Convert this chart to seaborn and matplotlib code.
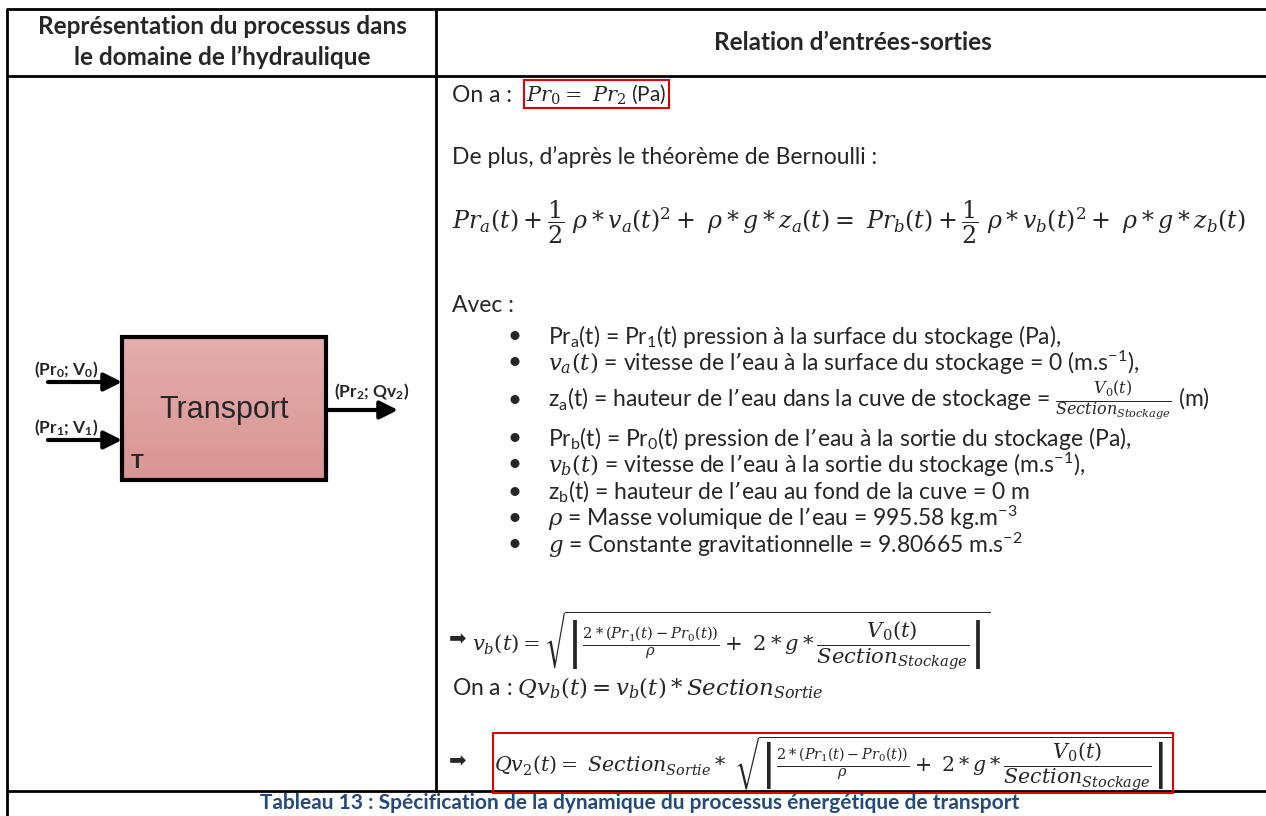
"""Tableau 13 : dynamique du processus energetique de transport."""

import matplotlib

matplotlib.use("Agg")

import matplotlib.pyplot as plt
import numpy as np
import seaborn as sns
from matplotlib.patches import Rectangle

# --- content -----------------------------------------------------------------
header_left = ["Représentation du processus dans", "le domaine de l’hydraulique"]
header_right = "Relation d’entrées-sorties"
block_name = "Transport"
block_tag = "T"
inputs = [r"(Pr$_\mathregular{0}$; V$_\mathregular{0}$)", r"(Pr$_\mathregular{1}$; V$_\mathregular{1}$)"]
output = r"(Pr$_\mathregular{2}$; Qv$_\mathregular{2}$)"

on_a = "On a :"
boxed_eq = r"$Pr_0 =\ Pr_2$ (Pa)"
de_plus = "De plus, d’après le théorème de Bernoulli :"
bernoulli = (r"$Pr_a(t) + \dfrac{1}{2}\ \rho * v_a(t)^2 +\ \rho * g * z_a(t) ="
             r"\ Pr_b(t) + \dfrac{1}{2}\ \rho * v_b(t)^2 +\ \rho * g * z_b(t)$")
avec = "Avec :"
bullets = [
    r"Pr$_\mathregular{a}$(t) = Pr$_\mathregular{1}$(t) pression à la surface du stockage (Pa),",
    r"$v_a(t)$ = vitesse de l’eau à la surface du stockage = 0 (m.s$^\mathregular{-1}$),",
    r"z$_\mathregular{a}$(t) = hauteur de l’eau dans la cuve de stockage = "
    r"$\frac{V_0(t)}{Section_{Stockage}}$ (m)",
    r"Pr$_\mathregular{b}$(t) = Pr$_\mathregular{0}$(t) pression de l’eau à la sortie du stockage (Pa),",
    r"$v_b(t)$ = vitesse de l’eau à la sortie du stockage (m.s$^\mathregular{-1}$),",
    r"z$_\mathregular{b}$(t) = hauteur de l’eau au fond de la cuve = 0 m",
    r"$\rho$ = Masse volumique de l’eau = 995.58 kg.m$^\mathregular{-3}$",
    r"$g$ = Constante gravitationnelle = 9.80665 m.s$^\mathregular{-2}$",
]
vb_eq = (r"$v_b(t) = \sqrt{\left|\frac{2*(Pr_1(t) - Pr_0(t))}{\rho} +\ 2*g*"
         r"\dfrac{V_0(t)}{Section_{Stockage}}\right|}$")
qvb_eq = r"On a : $Qv_b(t) = v_b(t) * Section_{Sortie}$"
qv2_eq = (r"$Qv_2(t) =\ Section_{Sortie} *\ \sqrt{\left|\frac{2*(Pr_1(t) - Pr_0(t))}{\rho}"
          r" +\ 2*g*\dfrac{V_0(t)}{Section_{Stockage}}\right|}$")
caption = "Tableau 13 : Spécification de la dynamique du processus énergétique de transport"
arrow_sign = "➡"

# --- layout (pixels, y pointing down) ------------------------------------------
W, H = 1266, 816
col_x = [7, 436]
row_y = [9, 76, 791]
bullet_y = [336, 363, 401, 438, 465, 492, 518, 545]

sns.set_theme(style="white")
plt.rcParams["font.family"] = ["Lato", "DejaVu Sans"]
plt.rcParams["mathtext.fontset"] = "dejavuserif"

fig = plt.figure(figsize=(W / 100, H / 100), dpi=100)
ax = fig.add_axes([0, 0, 1, 1])
ax.set_xlim(0, W)
ax.set_ylim(H, 0)
ax.axis("off")

# table rules
lw = 2.0
for y in row_y:
    ax.plot([col_x[0], W], [y, y], color="black", lw=lw, solid_capstyle="butt")
ax.plot([col_x[0], col_x[0]], [row_y[0], H], color="black", lw=lw)
ax.plot([col_x[1], col_x[1]], [row_y[0], row_y[2]], color="black", lw=lw)

# headers
for txt, y in zip(header_left, [27, 57]):
    ax.text(222, y, txt, ha="center", va="center", fontsize=17.5, fontweight="bold")
ax.text(853, 42, header_right, ha="center", va="center", fontsize=17.5, fontweight="bold")

# process block with vertical gradient
bx0, bx1, by0, by1 = 122, 326, 337, 480
grad = np.linspace(0, 1, 100)[:, None]
top = np.array(matplotlib.colors.to_rgb("#E3AEAD"))
bot = np.array(matplotlib.colors.to_rgb("#D99593"))
img = top[None, None, :] * (1 - grad[..., None]) + bot[None, None, :] * grad[..., None]
ax.imshow(img, extent=[bx0, bx1, by1, by0], aspect="auto", zorder=1)
ax.add_patch(Rectangle((bx0, by0), bx1 - bx0, by1 - by0, fill=False, ec="black", lw=3, zorder=2))
ax.text(224, 410, block_name, ha="center", va="center", fontsize=22,
        family="Liberation Sans", zorder=3)
ax.text(137, 463, block_tag, ha="center", va="center", fontsize=15, fontweight="bold",
        family="Liberation Sans", zorder=3)

arrow = dict(arrowstyle="-|>,head_length=0.9,head_width=0.45", lw=3, color="black",
             shrinkA=0, shrinkB=0)
for lab, y in zip(inputs, [382, 440]):
    ax.annotate("", xy=(bx0, y), xytext=(48, y), arrowprops=arrow)
    ax.text(66, y - 12, lab, ha="center", va="center", fontsize=12.5, fontweight="bold")
ax.annotate("", xy=(398, 410), xytext=(bx1, 410), arrowprops=arrow)
ax.text(372, 392, output, ha="center", va="center", fontsize=12.5, fontweight="bold")

# right column
x0 = 452
fs = 16.5
ax.text(x0, 95, on_a, ha="left", va="center", fontsize=fs)
ax.text(526, 94, boxed_eq, ha="left", va="center", fontsize=15,
        bbox=dict(boxstyle="square,pad=0.12", fc="none", ec="#E00000", lw=1.5))
ax.text(x0, 157, de_plus, ha="left", va="center", fontsize=fs)
ax.text(x0, 222, bernoulli, ha="left", va="center", fontsize=17.1)
ax.text(x0, 306, avec, ha="left", va="center", fontsize=fs)
for txt, y in zip(bullets, bullet_y):
    ax.text(515, y, "•", ha="center", va="center", fontsize=fs + 1)
    ax.text(548, y, txt, ha="left", va="center", fontsize=fs)

ax.text(x0 - 3, 639, arrow_sign, ha="left", va="center", fontsize=15,
        family="DejaVu Sans")
ax.text(472, 641, vb_eq, ha="left", va="center", fontsize=15.2)
ax.text(x0, 688, qvb_eq, ha="left", va="center", fontsize=fs)
ax.text(x0 - 3, 761, arrow_sign, ha="left", va="center", fontsize=15,
        family="DejaVu Sans")
ax.text(494, 763, qv2_eq, ha="left", va="center", fontsize=14.8,
        bbox=dict(boxstyle="square,pad=0.04", fc="none", ec="#E00000", lw=1.5))

ax.text(640, 803, caption, ha="center", va="center", fontsize=15, fontweight="bold",
        color="#244A7C")

fig.savefig("out.png", dpi=100)
plt.close(fig)
